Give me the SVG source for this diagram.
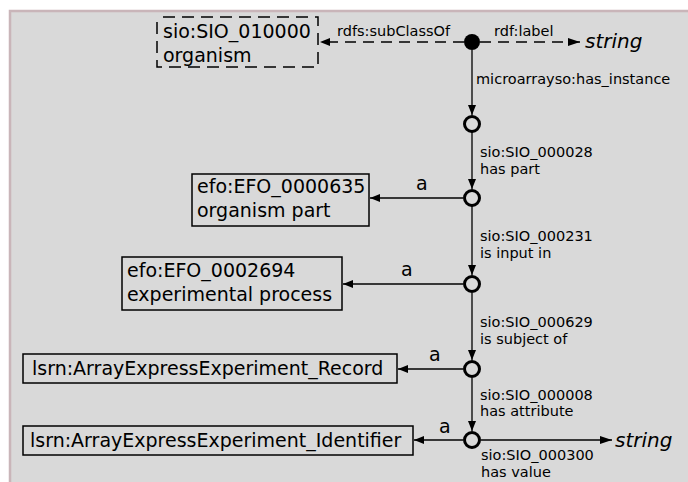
<svg xmlns="http://www.w3.org/2000/svg" width="688" height="482" viewBox="0 0 688 482">
  <defs>
    <marker id="arr" viewBox="0 0 10 10" refX="10" refY="5" markerWidth="10" markerHeight="10" markerUnits="userSpaceOnUse" orient="auto">
      <path d="M0,1 L10,5 L0,9 z" fill="#000"/>
    </marker>
    <marker id="arrw" viewBox="0 0 12 10" refX="12" refY="5" markerWidth="12" markerHeight="10" markerUnits="userSpaceOnUse" orient="auto">
      <path d="M0,1 L12,5 L0,9 z" fill="#000"/>
    </marker>
  </defs>
  <style>
    text { font-family: "DejaVu Sans", "Liberation Sans", sans-serif; fill: #000; }
    .lbl { font-size: 14.5px; }
    .box { font-size: 19px; }
    .lit { font-size: 20px; font-style: italic; }
    .cls { fill: none; stroke: #000; stroke-width: 1.5; }
    .edge { fill: none; stroke: #000; stroke-width: 1.3; }
    .dash { stroke-dasharray: 11,7; }
    .bn { fill: none; stroke: #000; stroke-width: 3; }
  </style>

  <!-- panel -->
  <rect x="0" y="0" width="688" height="482" fill="#ffffff"/>
  <rect x="10" y="11" width="690" height="480" fill="#d9d9d9" stroke="#c9b5b9" stroke-width="2.5"/>

  <!-- connectors -->
  <g id="edges">
    <line class="edge dash" x1="464" y1="42" x2="320" y2="42" marker-end="url(#arr)"/>
    <line class="edge dash" x1="480" y1="42" x2="580" y2="42" marker-end="url(#arrw)"/>
    <line class="edge" x1="472" y1="50" x2="472" y2="115" marker-end="url(#arr)"/>
    <line class="edge" x1="472" y1="132" x2="472" y2="189" marker-end="url(#arr)"/>
    <line class="edge" x1="472" y1="206" x2="472" y2="275" marker-end="url(#arr)"/>
    <line class="edge" x1="472" y1="293" x2="472" y2="360" marker-end="url(#arr)"/>
    <line class="edge" x1="472" y1="378" x2="472" y2="431" marker-end="url(#arr)"/>
    <line class="edge" x1="463" y1="198" x2="370" y2="198" marker-end="url(#arr)"/>
    <line class="edge" x1="463" y1="284" x2="343" y2="284" marker-end="url(#arr)"/>
    <line class="edge" x1="463" y1="369" x2="398" y2="369" marker-end="url(#arr)"/>
    <line class="edge" x1="463" y1="440" x2="414" y2="440" marker-end="url(#arr)"/>
    <line class="edge" x1="481" y1="440" x2="612" y2="440" marker-end="url(#arrw)"/>

    <text class="lbl" x="337" y="36">rdfs:subClassOf</text>
    <text class="lbl" x="494" y="36">rdf:label</text>
    <text class="lbl" x="476" y="84">microarrayso:has_instance</text>
    <text class="lbl" x="480" y="157">sio:SIO_000028</text>
    <text class="lbl" x="480" y="174">has part</text>
    <text class="lbl" x="480" y="241">sio:SIO_000231</text>
    <text class="lbl" x="480" y="258">is input in</text>
    <text class="lbl" x="480" y="327">sio:SIO_000629</text>
    <text class="lbl" x="480" y="344">is subject of</text>
    <text class="lbl" x="480" y="400">sio:SIO_000008</text>
    <text class="lbl" x="480" y="416">has attribute</text>
    <text class="lbl" x="481" y="460">sio:SIO_000300</text>
    <text class="lbl" x="481" y="477">has value</text>
    <text class="box" x="416" y="190">a</text>
    <text class="box" x="401" y="276">a</text>
    <text class="box" x="429" y="361">a</text>
    <text class="box" x="439" y="433">a</text>
  </g>

  <g id="n-organism">
    <rect class="cls" x="157" y="17" width="161" height="50" stroke-width="2.5" stroke-dasharray="12,7" stroke-dashoffset="-6"/>
    <text class="box" x="163" y="38" font-size="20">sio:SIO_010000</text>
    <text class="box" x="163" y="62" font-size="20">organism</text>
  </g>
  <g id="n-root">
    <circle cx="472" cy="42" r="8" fill="#000"/>
  </g>
  <g id="n-label1">
    <text class="lit" x="585" y="48">string</text>
  </g>
  <g id="n-b1"><circle class="bn" cx="472" cy="124" r="7.5"/></g>
  <g id="n-b2"><circle class="bn" cx="472" cy="198" r="7.5"/></g>
  <g id="n-b3"><circle class="bn" cx="472" cy="284" r="7.5"/></g>
  <g id="n-b4"><circle class="bn" cx="472" cy="369" r="7.5"/></g>
  <g id="n-b5"><circle class="bn" cx="472" cy="440" r="7.5"/></g>

  <g id="n-efo635">
    <rect class="cls" x="192" y="174" width="177" height="52"/>
    <text class="box" x="197" y="193">efo:EFO_0000635</text>
    <text class="box" x="197" y="217">organism part</text>
  </g>
  <g id="n-efo2694">
    <rect class="cls" x="122" y="257" width="220" height="53"/>
    <text class="box" x="127" y="277">efo:EFO_0002694</text>
    <text class="box" x="127" y="301">experimental process</text>
  </g>
  <g id="n-record">
    <rect class="cls" x="23" y="354" width="374" height="29"/>
    <text class="box" x="32" y="375">lsrn:ArrayExpressExperiment_Record</text>
  </g>
  <g id="n-identifier">
    <rect class="cls" x="23" y="426" width="390" height="29"/>
    <text class="box" x="30" y="447">lsrn:ArrayExpressExperiment_Identifier</text>
  </g>
  <g id="n-label2">
    <text class="lit" x="615" y="447">string</text>
  </g>
</svg>
